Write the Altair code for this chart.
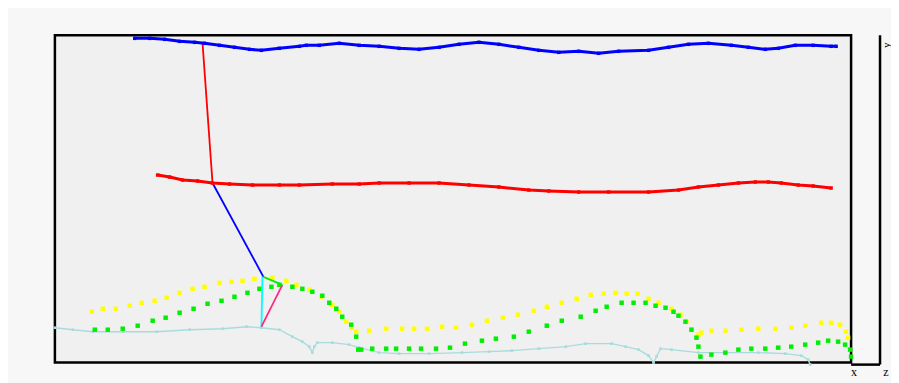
import altair as alt
import pandas as pd

# ---- trajectories (horizontal position, height) ----
blue_x = [80, 95, 110, 125, 140, 150, 165, 180, 195, 207, 225, 245, 252, 265, 285, 305, 325, 345, 365, 385,
          405, 425, 445, 465, 485, 505, 525, 545, 565, 595, 615, 635, 655, 678, 695, 712, 725, 742, 760, 778, 783]
blue_y = [327, 327, 326, 324, 323, 322, 320, 318, 316, 315, 317, 319, 320, 320, 322, 320, 319, 317, 316, 318,
          321, 323, 321, 318, 315, 313, 314, 312, 314, 315, 318, 321, 322, 320, 318, 316, 317, 320, 320, 319, 319]

red_x = [103, 115, 128, 143, 158, 175, 198, 225, 245, 278, 305, 325, 355, 385, 415, 445, 475, 495, 525, 555,
         595, 625, 645, 665, 685, 702, 715, 728, 745, 760, 778]
red_y = [190, 188, 185, 184, 182, 181, 180, 180, 180, 181, 181, 182, 182, 182, 180, 178, 175, 174, 173, 173,
         173, 175, 178, 180, 182, 183, 183, 182, 180, 179, 177]

yellow_x = [37, 48, 61, 75, 87, 100, 112, 125, 138, 150, 165, 177, 188, 200, 218, 232, 242, 255, 267, 278,
            285, 292, 297, 302, 315, 332, 348, 360, 373, 388, 402, 418, 433, 449, 464, 480, 493, 508, 523, 537,
            550, 562, 573, 584, 595, 605, 618, 627, 633, 638, 645, 648, 658, 672, 688, 705, 722, 738, 752, 768,
            778, 787, 793, 795]
yellow_y = [53, 56, 56, 59, 62, 64, 67, 72, 76, 78, 82, 83, 84, 86, 87, 84, 80, 75, 68, 60,
            53, 43, 37, 33, 34, 36, 36, 36, 36, 38, 37, 40, 44, 47, 50, 54, 58, 62, 66, 70,
            71, 72, 71, 71, 66, 62, 56, 50, 43, 35, 30, 32, 34, 34, 35, 36, 36, 37, 39, 42,
            42, 40, 33, 27]

green_x = [40, 53, 68, 83, 98, 111, 125, 139, 153, 167, 180, 193, 205, 217, 225, 238, 248, 258, 268, 275,
           282, 288, 297, 302, 304, 307, 318, 332, 342, 355, 367, 382, 396, 411, 428, 442, 460, 475, 493, 508,
           527, 542, 553, 568, 580, 592, 602, 612, 620, 625, 632, 638, 643, 645, 647, 658, 672, 685, 698, 712,
           725, 738, 752, 765, 775, 785, 792, 797, 798]
green_y = [35, 35, 36, 39, 44, 47, 52, 56, 61, 64, 68, 72, 76, 78, 80, 78, 76, 73, 69, 62,
           56, 48, 40, 28, 15, 15, 16, 16, 16, 16, 16, 16, 17, 21, 24, 26, 28, 33, 39, 44,
           48, 54, 58, 62, 62, 62, 59, 57, 53, 49, 43, 35, 27, 18, 8, 10, 12, 15, 16, 16,
           17, 18, 20, 22, 24, 23, 20, 15, 8]

cyan_x = [0, 18, 38, 68, 102, 135, 168, 192, 207, 225, 238, 248, 255, 258, 260, 263, 278, 295, 305, 325,
          345, 375, 408, 435, 458, 485, 512, 532, 558, 572, 585, 595, 600, 603, 607, 618, 645, 672, 705, 732,
          748, 755, 757]
cyan_y = [37, 35, 33, 33, 33, 35, 36, 38, 37, 35, 28, 23, 18, 12, 18, 22, 22, 20, 17, 12,
          11, 11, 12, 13, 14, 16, 18, 21, 21, 18, 15, 9, 2, 8, 16, 15, 12, 12, 12, 11,
          9, 5, 0]

# ---- stick figure segments (hip, knee, ankle, heel, toe) ----
seg_name = ["thigh", "shank", "heel", "sole", "toe"]
seg_x = [148, 158, 208, 207, 209]
seg_y = [322, 182, 88, 38, 88]
seg_x2 = [158, 209, 207, 228, 228]
seg_y2 = [182, 88, 38, 80, 80]
seg_color = ["#ff0000", "#0000ff", "#00ffff", "#ff2a7f", "#00ee00"]

XS = alt.Scale(domain=[0, 798], nice=False, zero=False)
YS = alt.Scale(domain=[2, 330], nice=False, zero=False)


def traj(xs, ys, color, line_w, pt_size, with_line=True):
    df = pd.DataFrame({"x": xs, "y": ys, "i": list(range(len(xs)))})
    base = alt.Chart(df).encode(
        x=alt.X("x:Q", scale=XS, axis=None),
        y=alt.Y("y:Q", scale=YS, axis=None),
        order="i:Q",
    )
    out = []
    if with_line:
        out.append(base.mark_line(color=color, strokeWidth=line_w))
    out.append(base.mark_square(color=color, size=pt_size, opacity=1))
    return out


seg_df = pd.DataFrame({"name": seg_name, "x": seg_x, "y": seg_y, "x2": seg_x2, "y2": seg_y2, "c": seg_color})
segments = alt.Chart(seg_df).mark_rule(strokeWidth=1.8).encode(
    x=alt.X("x:Q", scale=XS, axis=None),
    y=alt.Y("y:Q", scale=YS, axis=None),
    x2="x2:Q",
    y2="y2:Q",
    color=alt.Color("c:N", scale=None),
)

side_v = alt.Chart().mark_rule(color="black", strokeWidth=2.5).encode(
    x=alt.value(827), y=alt.value(0), y2=alt.value(330))
side_h = alt.Chart().mark_rule(color="black", strokeWidth=2.5).encode(
    x=alt.value(798), x2=alt.value(827), y=alt.value(330))
lbl_x = alt.Chart().mark_text(text="x", font="Liberation Serif", fontSize=12, align="center",
                              baseline="middle").encode(x=alt.value(801), y=alt.value(337))
lbl_z = alt.Chart().mark_text(text="z", font="Liberation Serif", fontSize=12, align="center",
                              baseline="middle").encode(x=alt.value(833), y=alt.value(337))
lbl_y = alt.Chart().mark_text(text="y", font="Liberation Serif", fontSize=11, align="center",
                              baseline="middle", angle=270).encode(x=alt.value(834), y=alt.value(10))

layers = []
layers += traj(cyan_x, cyan_y, "#a8dcdc", 1.4, 7)
layers += traj(yellow_x, yellow_y, "#ffff00", 0, 20, with_line=False)
layers += traj(green_x, green_y, "#00ee00", 0, 20, with_line=False)
layers.append(segments)
layers += traj(red_x, red_y, "#ff0000", 3, 12)
layers += traj(blue_x, blue_y, "#0000ff", 3, 12)
layers += [side_v, side_h, lbl_x, lbl_z, lbl_y]

chart = alt.layer(*layers).properties(
    width=798,
    height=328,
    autosize=alt.AutoSizeParams(type="none"),
    padding={"left": 47, "top": 27, "right": 40, "bottom": 20},
    background="#f7f7f7",
).configure_view(stroke="black", strokeWidth=2.5, fill="#f0f0f0")

chart.save("out.html", embed_options={"renderer": "svg", "actions": False})
